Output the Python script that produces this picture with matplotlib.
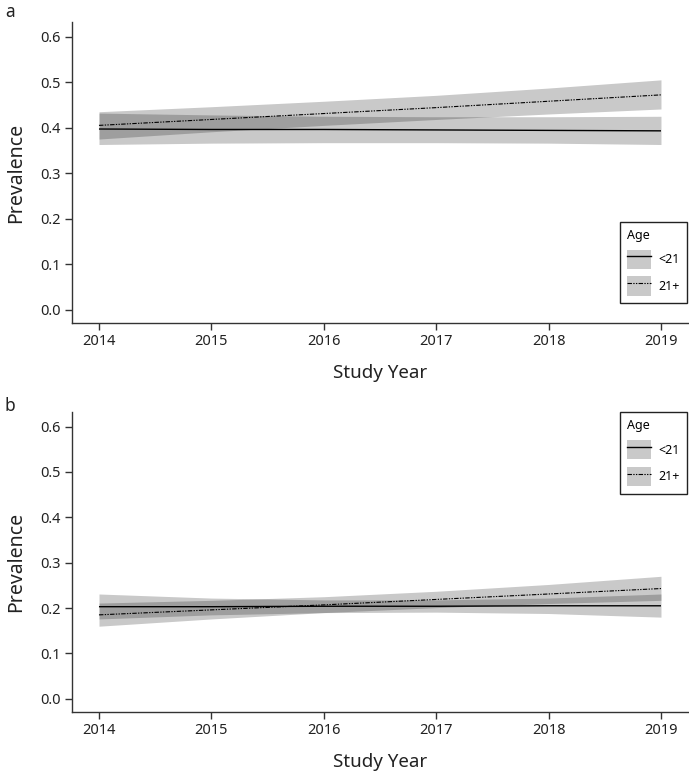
import matplotlib
matplotlib.use("Agg")
import matplotlib.pyplot as plt
from matplotlib.lines import Line2D
from matplotlib.patches import Patch

plt.rcParams["font.family"] = ["Noto Sans", "DejaVu Sans"]

years = [2014, 2015, 2016, 2017, 2018, 2019]

# panel a
a_u21_mean = [0.397, 0.396, 0.396, 0.395, 0.394, 0.393]
a_u21_lo = [0.363, 0.366, 0.367, 0.367, 0.366, 0.363]
a_u21_hi = [0.432, 0.428, 0.425, 0.424, 0.424, 0.425]
a_o21_mean = [0.405, 0.418, 0.431, 0.444, 0.458, 0.472]
a_o21_lo = [0.375, 0.391, 0.405, 0.418, 0.430, 0.441]
a_o21_hi = [0.435, 0.446, 0.458, 0.471, 0.487, 0.505]

# panel b
b_u21_mean = [0.203, 0.203, 0.204, 0.204, 0.205, 0.205]
b_u21_lo = [0.176, 0.185, 0.190, 0.191, 0.188, 0.180]
b_u21_hi = [0.231, 0.222, 0.218, 0.218, 0.222, 0.231]
b_o21_mean = [0.185, 0.196, 0.207, 0.219, 0.231, 0.243]
b_o21_lo = [0.160, 0.176, 0.190, 0.201, 0.210, 0.217]
b_o21_hi = [0.211, 0.217, 0.225, 0.237, 0.252, 0.270]

y_ticks = [0.0, 0.1, 0.2, 0.3, 0.4, 0.5, 0.6]
group_labels = ["<21", "21+"]

BAND = dict(color="black", alpha=0.21, linewidth=0)
DASH = (0, (4, 1.2, 1.2, 1.2, 1.2, 1.2))
SPINE = "#333333"

fig = plt.figure(figsize=(6.89, 7.75), dpi=100)
ax_a = fig.add_axes([0.1045, 0.5832, 0.894, 0.3884])
ax_b = fig.add_axes([0.1045, 0.0813, 0.894, 0.3871])


def draw(ax, u_mean, u_lo, u_hi, o_mean, o_lo, o_hi):
    ax.fill_between(years, u_lo, u_hi, **BAND)
    ax.fill_between(years, o_lo, o_hi, **BAND)
    ax.plot(years, u_mean, color="black", lw=1.0, solid_capstyle="butt")
    ax.plot(years, o_mean, color="black", lw=0.8, linestyle=DASH)
    ax.set_xlim(2013.76, 2019.24)
    ax.set_ylim(-0.029, 0.632)
    ax.set_yticks(y_ticks)
    ax.set_yticklabels([f"{t:.1f}" for t in y_ticks])
    ax.set_xticks(years)
    for s in ("top", "right"):
        ax.spines[s].set_visible(False)
    for s in ("left", "bottom"):
        ax.spines[s].set_color(SPINE)
        ax.spines[s].set_linewidth(1.0)
    ax.tick_params(direction="out", length=5, width=1, color=SPINE,
                   labelsize=10.5, labelcolor="#222222", pad=3)
    ax.set_ylabel("Prevalence", fontsize=14, labelpad=10, color="#222222")
    ax.set_xlabel("Study Year", fontsize=13.5, labelpad=11, color="#222222")


draw(ax_a, a_u21_mean, a_u21_lo, a_u21_hi, a_o21_mean, a_o21_lo, a_o21_hi)
draw(ax_b, b_u21_mean, b_u21_lo, b_u21_hi, b_o21_mean, b_o21_lo, b_o21_hi)


def legend(ax, loc, anchor):
    h1 = (Patch(facecolor="#c9c9c9", edgecolor="none"),
          Line2D([], [], color="black", lw=1.0))
    h2 = (Patch(facecolor="#c9c9c9", edgecolor="none"),
          Line2D([], [], color="black", lw=0.8, linestyle=DASH))
    leg = ax.legend([h1, h2], group_labels, title="Age", loc=loc,
                    bbox_to_anchor=anchor, borderaxespad=0, fontsize=9,
                    title_fontsize=9, handlelength=1.9, handleheight=2.0,
                    labelspacing=0.6, handletextpad=0.6, borderpad=0.6,
                    fancybox=False, framealpha=1)
    leg.get_frame().set_edgecolor("#222222")
    leg.get_frame().set_linewidth(1.0)
    leg._legend_box.align = "left"


legend(ax_a, "lower right", (0.999, 0.066))
legend(ax_b, "upper right", (0.999, 1.0))

fig.text(0.007, 0.984, "a", fontsize=12.5, va="center", color="#222222")
fig.text(0.007, 0.476, "b", fontsize=12.5, va="center", color="#222222")

fig.savefig("out.png", dpi=100)
